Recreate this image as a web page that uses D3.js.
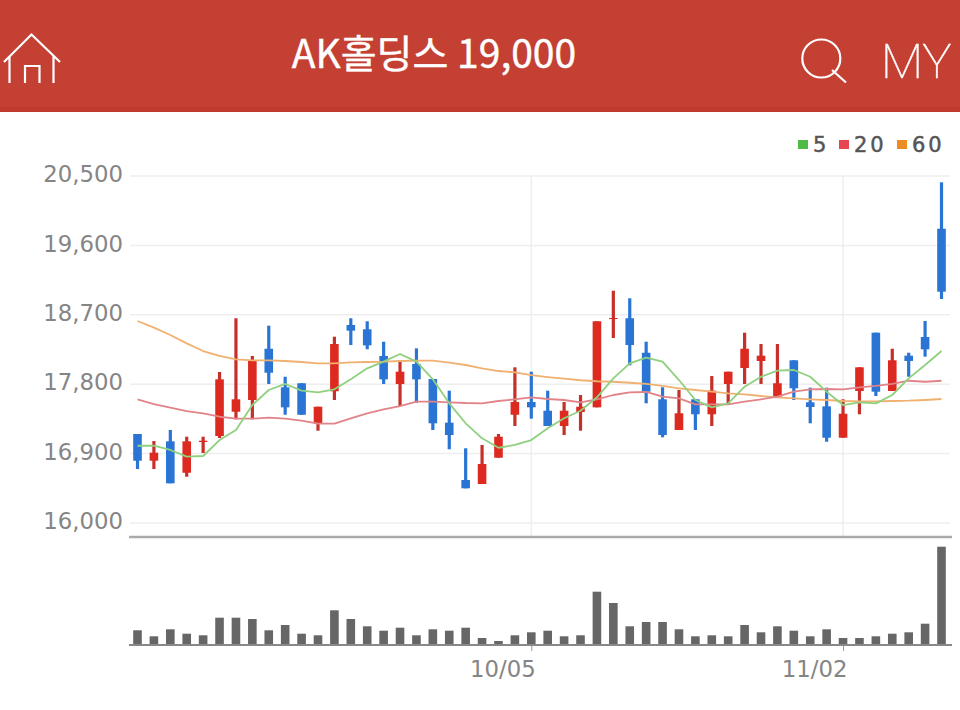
<!DOCTYPE html>
<html>
<head>
<meta charset="utf-8">
<script src="https://cdn.jsdelivr.net/npm/d3@7"></script>
<style>
  html, body { margin: 0; padding: 0; background: #fff; }
  svg { display: block; }
  .y-axis text, .x-axis text { font-family: "DejaVu Sans", sans-serif; font-size: 22.8px; fill: #858585; }
</style>
</head>
<body>
<svg id="chart" width="960" height="710"></svg>
<script>
const title = "AK홀딩스 19,000";

const dates = [
  "08/28", "08/31", "09/01", "09/02", "09/03", "09/04", "09/07", "09/08", "09/09", "09/10",
  "09/11", "09/14", "09/15", "09/16", "09/17", "09/18", "09/21", "09/22", "09/23", "09/24",
  "09/25", "09/30", "10/01", "10/02", "10/05", "10/06", "10/07", "10/08", "10/12", "10/13",
  "10/14", "10/15", "10/16", "10/19", "10/20", "10/21", "10/22", "10/23", "10/26", "10/27",
  "10/28", "10/29", "10/30", "11/02", "11/03", "11/04", "11/05", "11/06", "11/09", "11/10",
];

const open = [
  17154, 16808, 17059, 16652, 17050, 17128, 17443, 17595, 18260, 17760,
  17812, 17293, 17708, 18568, 18512, 18166, 17803, 18062, 17867, 17301,
  16558, 16506, 16847, 17404, 17569, 17456, 17258, 17439, 17500, 18645,
  18655, 18208, 17604, 17206, 17604, 17410, 17803, 18010, 18101, 17638,
  18110, 17565, 17513, 17106, 17712, 18468, 17712, 18170, 18412, 19816,
];
const close = [
  16808, 16912, 16515, 17059, 17067, 17863, 17604, 18114, 17949, 17500,
  17404, 17508, 18321, 18494, 18304, 17863, 17962, 17863, 17293, 17141,
  16450, 16765, 17119, 17569, 17500, 17258, 17456, 17508, 18616, 18658,
  18308, 17703, 17141, 17423, 17410, 17716, 17962, 18260, 18170, 17812,
  17747, 17504, 17106, 17417, 18019, 17703, 18110, 18101, 18253, 19000,
];
const high = [
  17154, 17063, 17206, 17119, 17119, 17958, 18655, 18166, 18559, 17897,
  17812, 17508, 18416, 18655, 18616, 18351, 18114, 18265, 17867, 17716,
  16969, 17012, 17154, 18019, 17962, 17716, 17569, 17660, 18616, 19012,
  18914, 18351, 17760, 17725, 17604, 17906, 17962, 18468, 18321, 18321,
  18110, 17755, 17755, 17604, 18019, 18468, 18260, 18208, 18620, 20418,
];
const low = [
  16700, 16700, 16515, 16600, 16908, 17102, 17345, 17345, 17803, 17404,
  17404, 17197, 17595, 18308, 18253, 17803, 17517, 17560, 17206, 16956,
  16450, 16506, 16847, 17258, 17353, 17258, 17141, 17197, 17500, 18399,
  18045, 17552, 17111, 17206, 17206, 17258, 17530, 17803, 17803, 17638,
  17595, 17293, 17054, 17106, 17410, 17647, 17712, 17897, 18157, 18905,
];

const ma5 = [
  17002, 17002, 16947, 16860, 16869, 17076, 17206, 17530, 17725, 17803,
  17716, 17695, 17734, 17863, 18006, 18092, 18192, 18092, 17863, 17552,
  17293, 17098, 16976, 17012, 17076, 17228, 17358, 17456, 17630, 17876,
  18071, 18144, 18092, 17854, 17595, 17500, 17552, 17768, 17897, 17975,
  17984, 17897, 17703, 17530, 17565, 17552, 17660, 17876, 18049, 18230,
];
const ma20 = [
  17604, 17543, 17495, 17452, 17423, 17378, 17353, 17353, 17366, 17353,
  17327, 17288, 17288, 17358, 17423, 17474, 17517, 17573, 17573, 17565,
  17556, 17552, 17582, 17604, 17630, 17608, 17595, 17565, 17604, 17660,
  17695, 17699, 17638, 17617, 17539, 17539, 17539, 17573, 17604, 17638,
  17703, 17734, 17738, 17734, 17760, 17777, 17803, 17845, 17832, 17845,
];
const ma60 = [
  18620, 18533, 18438, 18330, 18230, 18166, 18123, 18110, 18110, 18101,
  18088, 18071, 18071, 18084, 18088, 18092, 18101, 18105, 18105, 18079,
  18049, 18006, 17971, 17954, 17919, 17893, 17871, 17851, 17838, 17832,
  17819, 17803, 17777, 17747, 17725, 17703, 17682, 17669, 17647, 17630,
  17617, 17604, 17595, 17582, 17578, 17578, 17582, 17586, 17595, 17608,
];

const volume = [
  14.7, 8.7, 15.7, 11.3, 9.7, 27.3, 27.3, 26, 14.7, 20,
  11.3, 9.7, 34.7, 26, 18.7, 14.3, 17.3, 9.7, 15.7, 14.3,
  17.3, 7, 4, 9.7, 12.7, 14.3, 8.7, 9.7, 53.3, 42,
  18.7, 23, 23, 15.7, 8.7, 9.7, 8.7, 20, 12.7, 18.7,
  14.3, 8.7, 15.7, 7, 7, 8.7, 11.3, 12.7, 21.3, 98.3,
];

const priceTicks = [16000, 16900, 17800, 18700, 19600, 20500];
const dateTicks = ["10/05", "11/02"];
const maLegend = ["5", "20", "60"];

const UP_COLOR = "#dc2a20";
const UP_WICK = "#c5302a";
const DOWN_COLOR = "#2a75d3";
const MA_COLORS = { 5: "#8fd07f", 20: "#e2838a", 60: "#f0b070" };
const LEGEND_COLORS = { 5: "#4dbb45", 20: "#e4474f", 60: "#ee8c24" };

const svg = d3.select("#chart");
const x = d3.scalePoint().domain(dates).range([137.5, 941.5]);
const y = d3.scaleLinear().domain([16000, 20500]).range([523, 176]);
const yVol = d3.scaleLinear().domain([0, 100]).range([645, 545]);

// header bar
svg.append("rect").attr("width", 960).attr("height", 112).attr("fill", "#c44033");
svg.append("rect").attr("y", 107).attr("width", 960).attr("height", 5).attr("fill", "#c03a2d");
svg.append("text")
  .attr("x", 434).attr("y", 68)
  .attr("text-anchor", "middle")
  .attr("fill", "#fff")
  .attr("stroke", "#fff")
  .attr("stroke-width", 0.4)
  .style("font-family", '"Noto Sans CJK KR", sans-serif')
  .style("font-size", "39px")
  .text(title);

// header icons
const icons = svg.append("g").attr("fill", "none").attr("stroke", "#fff").attr("stroke-width", 2.2);
icons.append("path").attr("d", "M4,62 L31.5,34.5 L60,62 M9.5,56 V83 M53.5,56 V83 M25,83 V66 H39.5 V83");
icons.append("circle").attr("cx", 821.3).attr("cy", 58.5).attr("r", 19);
icons.append("path").attr("d", "M832,70 L846,82.5");
svg.append("text")
  .attr("x", 881).attr("y", 78)
  .attr("fill", "#fff")
  .attr("stroke", "#fff")
  .attr("stroke-width", 0.5)
  .style("font-family", "Roboto, sans-serif")
  .style("font-weight", 100)
  .style("font-size", "49px")
  .text("MY");

// legend
const legendX = { 5: 798, 20: 839, 60: 897 };
maLegend.forEach((m) => {
  svg.append("rect")
    .attr("x", legendX[m]).attr("y", 140).attr("width", 10).attr("height", 9)
    .attr("fill", LEGEND_COLORS[m]);
  svg.append("text")
    .attr("x", legendX[m] + 15).attr("y", 152)
    .attr("fill", "#555")
    .attr("stroke", "#555")
    .attr("stroke-width", 0.5)
    .style("font-family", '"DejaVu Sans", sans-serif')
    .style("font-size", "21px")
    .style("letter-spacing", "3px")
    .text(m);
});

// grid and axes
const yAxis = svg.append("g")
  .attr("class", "y-axis")
  .attr("transform", "translate(130,0)")
  .call(d3.axisLeft(y).tickValues(priceTicks).tickFormat(d3.format(",")).tickSize(0).tickPadding(7));
yAxis.select(".domain").remove();
yAxis.selectAll("text").attr("dy", "0.25em");

svg.append("g")
  .selectAll("line")
  .data(priceTicks)
  .join("line")
  .attr("x1", 130).attr("x2", 950)
  .attr("y1", (d) => y(d)).attr("y2", (d) => y(d))
  .attr("stroke", "#eeeeee").attr("stroke-width", 1.5);

svg.append("g")
  .selectAll("line")
  .data(dateTicks)
  .join("line")
  .attr("x1", (d) => x(d)).attr("x2", (d) => x(d))
  .attr("y1", 176).attr("y2", 537)
  .attr("stroke", "#eeeeee").attr("stroke-width", 1.5);

svg.append("line")
  .attr("x1", 129).attr("x2", 952).attr("y1", 537).attr("y2", 537)
  .attr("stroke", "#aaaaaa").attr("stroke-width", 2.5);

const xAxis = svg.append("g")
  .attr("class", "x-axis")
  .attr("transform", "translate(0,645)")
  .call(d3.axisBottom(x).tickValues(dateTicks).tickSize(6).tickPadding(10));
xAxis.select(".domain").remove();
xAxis.selectAll("line").attr("stroke", "#999");
xAxis.selectAll("text").attr("text-anchor", "end").attr("dx", 4);

// candles
const candles = svg.append("g")
  .selectAll("g")
  .data(dates)
  .join("g")
  .attr("fill", (d, i) => (close[i] >= open[i] ? UP_COLOR : DOWN_COLOR));

candles.append("rect")
  .attr("x", (d) => x(d) - 1.6)
  .attr("width", 3.2)
  .attr("y", (d, i) => y(high[i]))
  .attr("height", (d, i) => y(low[i]) - y(high[i]))
  .attr("fill", (d, i) => (close[i] >= open[i] ? UP_WICK : DOWN_COLOR));

candles.append("rect")
  .attr("x", (d) => x(d) - 4.3)
  .attr("width", 8.6)
  .attr("y", (d, i) => y(Math.max(open[i], close[i])))
  .attr("height", (d, i) => Math.abs(y(open[i]) - y(close[i])));

// moving averages
const maLine = d3.line().x((d, i) => x(dates[i])).y((d) => y(d));
[[60, ma60], [20, ma20], [5, ma5]].forEach(([m, values]) => {
  svg.append("path")
    .attr("d", maLine(values))
    .attr("fill", "none")
    .attr("stroke", MA_COLORS[m])
    .attr("stroke-width", 1.8)
    .attr("stroke-linejoin", "round");
});

// volume
svg.append("g")
  .selectAll("rect")
  .data(dates)
  .join("rect")
  .attr("x", (d) => x(d) - 4.3)
  .attr("width", 8.6)
  .attr("y", (d, i) => yVol(volume[i]))
  .attr("height", (d, i) => yVol(0) - yVol(volume[i]))
  .attr("fill", "#666");

svg.append("line")
  .attr("x1", 129).attr("x2", 952).attr("y1", 645).attr("y2", 645)
  .attr("stroke", "#888").attr("stroke-width", 2);
</script>
</body>
</html>
